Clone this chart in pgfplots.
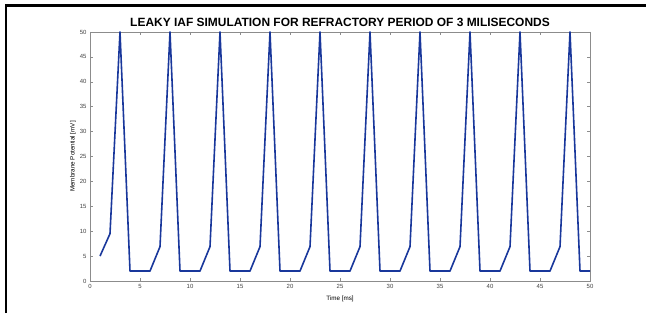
\documentclass[border=0pt]{standalone}
\usepackage{fontspec}
\setmainfont{Liberation Sans}
\usepackage{pgfplots}
\pgfplotsset{compat=1.18}
\definecolor{lineblue}{RGB}{25,55,155}
\definecolor{axgray}{RGB}{140,140,140}
\begin{document}
\begin{tikzpicture}[x=1bp,y=1bp]
\useasboundingbox (0,0) rectangle (646,313);
\draw[black,line width=2.2bp] (6,0) -- (6,307.5) -- (646,307.5);
\begin{axis}[
  at={(90bp,32bp)}, anchor=south west,
  scale only axis, width=500bp, height=249bp,
  xmin=0, xmax=50, ymin=0, ymax=50,
  xtick={0,5,...,50}, ytick={0,5,...,50},
  tick align=inside, major tick length=3bp,
  axis line style={axgray, line width=0.5bp},
  every tick/.style={axgray, line width=0.5bp},
  tick label style={font=\fontsize{6}{7}\selectfont, text=black!75},
  /pgf/number format/assume math mode=true,
  xlabel={Time [ms]}, ylabel={Membrane Potential [mV]},
  label style={font=\fontsize{6.3}{7}\selectfont},
  xlabel style={yshift=0bp},
  ylabel style={yshift=-3bp},
  title={\bfseries LEAKY IAF SIMULATION FOR REFRACTORY PERIOD OF 3 MILISECONDS},
  title style={font=\fontsize{12}{14}\selectfont, yshift=-4bp},
  clip=true,
]
\addplot[lineblue, line width=1.6bp, line join=round] coordinates {
(1,5)(2,9.5)(3,50)(4,2)(5,2)(6,2)(7,6.9)
(8,50)(9,2)(10,2)(11,2)(12,6.9)
(13,50)(14,2)(15,2)(16,2)(17,6.9)
(18,50)(19,2)(20,2)(21,2)(22,6.9)
(23,50)(24,2)(25,2)(26,2)(27,6.9)
(28,50)(29,2)(30,2)(31,2)(32,6.9)
(33,50)(34,2)(35,2)(36,2)(37,6.9)
(38,50)(39,2)(40,2)(41,2)(42,6.9)
(43,50)(44,2)(45,2)(46,2)(47,6.9)
(48,50)(49,2)(50,2)
};
\end{axis}
\end{tikzpicture}
\end{document}
